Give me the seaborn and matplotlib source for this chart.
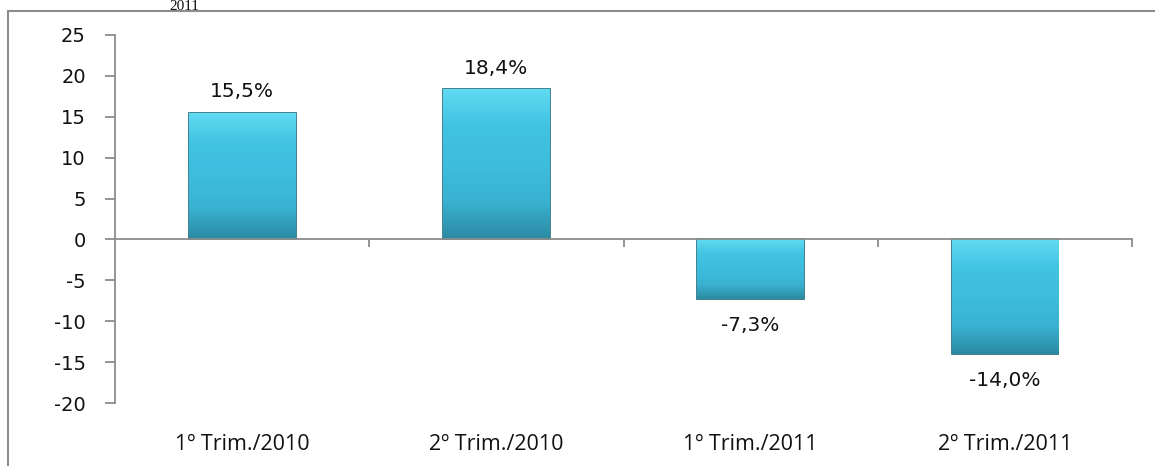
import numpy as np
import pandas as pd
import seaborn as sns
import matplotlib.pyplot as plt
from matplotlib.colors import LinearSegmentedColormap

# Data
categories = ['1º Trim./2010', '2º Trim./2010', '1º Trim./2011', '2º Trim./2011']
values = [15.5, 18.4, -7.3, -14.0]
labels = ['15,5%', '18,4%', '-7,3%', '-14,0%']
yticks = [-20, -15, -10, -5, 0, 5, 10, 15, 20, 25]

df = pd.DataFrame({'periodo': categories, 'variacao': values})

sns.set_style('white')
plt.rcParams['font.family'] = ['DejaVu Sans']
plt.rcParams['axes.unicode_minus'] = False

fig = plt.figure(figsize=(11.55, 4.66), dpi=100)
ax = fig.add_axes([0.0996, 0.135, 0.8805, 0.79])

sns.barplot(data=df, x='periodo', y='variacao', color='#3CBBDB', width=0.42,
            edgecolor='#1F6C7E', linewidth=1.2, ax=ax, zorder=2)

# soft vertical shading inside each bar (clipped to the bar patch)
grad = LinearSegmentedColormap.from_list(
    'barra', ['#2B8AA2', '#3AB2D2', '#3EBDDD', '#41C3E2', '#62DBF2'])
for p in ax.patches:
    x0, y0 = p.get_x(), p.get_y()
    w, h = p.get_width(), p.get_height()
    lo, hi = min(y0, y0 + h), max(y0, y0 + h)
    g = np.linspace(0, 1, 256).reshape(-1, 1)
    im = ax.imshow(g, cmap=grad, origin='lower', aspect='auto',
                   extent=(x0, x0 + w, lo, hi), zorder=2.5)
    im.set_clip_path(p)

ax.set_xlim(-0.5, 3.5)
ax.set_ylim(-20, 25)
ax.set_yticks(yticks)
ax.set_xlabel('')
ax.set_ylabel('')

# data labels
for i, (v, lab) in enumerate(zip(values, labels)):
    off = 15 if v > 0 else -19
    ax.annotate(lab, (i, v), xytext=(0, off), textcoords='offset points',
                ha='center', va='center', fontsize=14.5, color='#111111')

# spines / ticks
for s in ['top', 'right', 'bottom']:
    ax.spines[s].set_visible(False)
ax.spines['left'].set_color('#8C8C8C')
ax.spines['left'].set_linewidth(1.3)
ax.tick_params(axis='y', direction='out', length=7, width=1.3, color='#8C8C8C',
               pad=14, labelsize=14, labelcolor='#111111', left=True)
ax.tick_params(axis='x', length=0, pad=22, labelsize=15.5, labelcolor='#111111')
for t in ax.get_xticklabels():
    t.set_fontfamily(['Open Sans', 'DejaVu Sans'])

# category axis crossing at zero
sec = ax.secondary_xaxis(20 / 45)
sec.set_xticks([0.5, 1.5, 2.5, 3.5])
sec.set_xticklabels([])
sec.spines['bottom'].set_color('#8C8C8C')
sec.spines['bottom'].set_linewidth(1.3)
sec.tick_params(axis='x', direction='out', length=6, width=1.3, color='#8C8C8C')
sec.set_zorder(3)

# outer frame of the chart area (only top and left visible)
fig.add_artist(plt.Line2D([0.007, 1.0], [0.976, 0.976], transform=fig.transFigure,
                          color='#8C8C8C', lw=1.5))
fig.add_artist(plt.Line2D([0.007, 0.007], [0.0, 0.976], transform=fig.transFigure,
                          color='#8C8C8C', lw=1.5))

# remains of the title above the chart
fig.text(0.16, 0.999, '2011', ha='center', va='top', fontsize=11,
         family='Liberation Serif', color='#111111')

fig.savefig('out.png', dpi=100)
